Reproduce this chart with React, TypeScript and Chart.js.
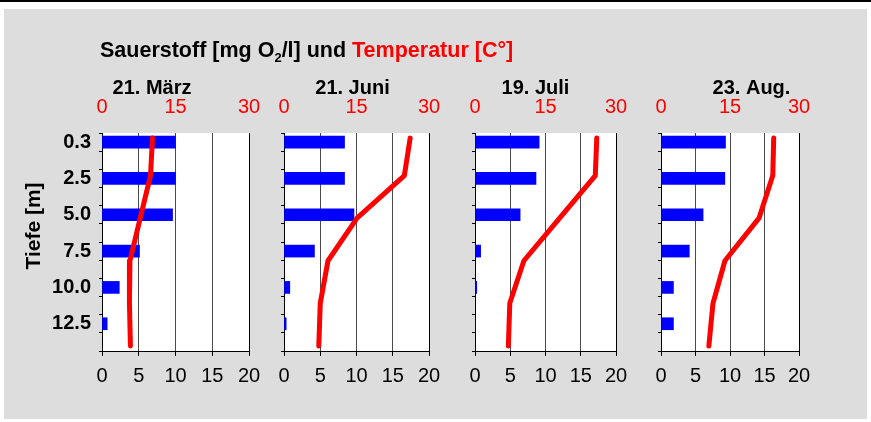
import React, { useEffect, useRef } from 'react';
import { Chart, registerables } from 'chart.js';

Chart.register(...registerables);

// ---------- data ----------
const depthLabels = ['0.3', '2.5', '5.0', '7.5', '10.0', '12.5'];
const depthValues = [0.3, 2.5, 5.0, 7.5, 10.0, 12.5];
const panelTitles = ['21. März', '21. Juni', '19. Juli', '23. Aug.'];

const oxygenMaerz = [10.0, 10.0, 9.6, 5.1, 2.35, 0.7];
const oxygenJuni = [8.35, 8.35, 9.65, 4.2, 0.8, 0.3];
const oxygenJuli = [9.1, 8.65, 6.4, 0.8, 0.25, 0];
const oxygenAug = [9.35, 9.25, 6.1, 4.1, 1.8, 1.8];

const tempMaerz = [10.3, 9.9, 7.8, 5.7, 5.6, 5.8];
const tempJuni = [26.1, 24.9, 15.1, 9.1, 7.5, 7.2];
const tempJuli = [25.9, 25.6, 18.0, 10.4, 7.4, 7.1];
const tempAug = [24.5, 24.3, 21.3, 13.9, 11.3, 10.4];

const oxygenTicks = [0, 5, 10, 15, 20];
const tempTicks = [0, 15, 30];

const oxygenSeries = [oxygenMaerz, oxygenJuni, oxygenJuli, oxygenAug];
const tempSeries = [tempMaerz, tempJuni, tempJuli, tempAug];

// ---------- layout (page coordinates) ----------
const W = 871;
const H = 422;
const PLOT_TOP = 133;
const PLOT_BOTTOM = 351;
const PANELS = [
  { left: 102, right: 249, titleX: 152 },
  { left: 284, right: 429, titleX: 352.5 },
  { left: 475, right: 616, titleX: 535.5 },
  { left: 661, right: 799, titleX: 751.5 },
];
const Y_AXIS_W = 60;
const X_BOTTOM_H = 50;
const X_TOP_H = 50;
const FONT = "'Liberation Sans', Arial, Helvetica, sans-serif";

type Run = { text: string; color?: string; size?: number; dy?: number };
type TextItem = {
  runs: Run[];
  x: number;
  y: number;
  size: number;
  bold?: boolean;
  align?: 'left' | 'center';
  rotate?: boolean;
};

const bgPlugin = {
  id: 'plotBg',
  beforeDraw(chart: any) {
    const { ctx, chartArea } = chart;
    ctx.save();
    ctx.fillStyle = '#FFFFFF';
    ctx.fillRect(chartArea.left, chartArea.top, chartArea.right - chartArea.left, chartArea.bottom - chartArea.top);
    ctx.restore();
  },
};

const textPlugin = {
  id: 'texts',
  afterDraw(chart: any, _args: any, opts: any) {
    const ctx = chart.ctx as CanvasRenderingContext2D;
    const items: TextItem[] = (opts && opts.items) || [];
    for (const item of items) {
      ctx.save();
      const fontOf = (size: number) => `${item.bold ? 'bold ' : ''}${size}px ${FONT}`;
      let total = 0;
      for (const r of item.runs) {
        ctx.font = fontOf(r.size || item.size);
        total += ctx.measureText(r.text).width;
      }
      ctx.textBaseline = 'alphabetic';
      ctx.textAlign = 'left';
      let cx: number;
      let by: number;
      ctx.translate(item.x, item.y);
      if (item.rotate) {
        ctx.rotate(-Math.PI / 2);
        cx = -total / 2;
        by = item.size * 0.36;
      } else {
        cx = item.align === 'center' ? -total / 2 : 0;
        by = 0;
      }
      for (const r of item.runs) {
        ctx.font = fontOf(r.size || item.size);
        ctx.fillStyle = r.color || '#000000';
        ctx.fillText(r.text, cx, by + (r.dy || 0));
        cx += ctx.measureText(r.text).width;
      }
      ctx.restore();
    }
  },
};

function makeConfig(i: number): any {
  const p = PANELS[i];
  const labels = depthLabels.flatMap((l) => [l, '']);
  const barData = oxygenSeries[i].flatMap((v) => [v, null]);
  const lineData = tempSeries[i].map((t, k) => ({ x: t, y: depthValues[k] }));

  const items: TextItem[] = [
    {
      runs: [{ text: panelTitles[i] }],
      x: p.titleX,
      y: 93.5,
      size: 20,
      bold: true,
      align: 'center',
    },
  ];
  if (i === 0) {
    items.push({
      runs: [
        { text: 'Sauerstoff [mg O' },
        { text: '2', size: 13, dy: 5 },
        { text: '/l] und ' },
        { text: 'Temperatur [C°]', color: '#FF0000' },
      ],
      x: 100,
      y: 57,
      size: 21.5,
      bold: true,
      align: 'left',
    });
    items.push({
      runs: [{ text: 'Tiefe [m]' }],
      x: 32,
      y: 226,
      size: 21,
      bold: true,
      rotate: true,
    });
  }

  return {
    type: 'bar',
    data: {
      labels,
      datasets: [
        {
          type: 'line',
          label: 'Temperatur',
          data: lineData,
          xAxisID: 'x2',
          yAxisID: 'y2',
          borderColor: '#FF0000',
          backgroundColor: '#FF0000',
          borderWidth: 5,
          pointRadius: 0,
          borderCapStyle: 'round',
          borderJoinStyle: 'round',
          tension: 0,
          order: 0,
          clip: false,
        },
        {
          type: 'bar',
          label: 'Sauerstoff',
          data: barData,
          xAxisID: 'x',
          yAxisID: 'y',
          backgroundColor: '#0000FF',
          borderWidth: 0,
          barThickness: 12,
          grouped: false,
          order: 1,
        },
      ],
    },
    options: {
      responsive: false,
      animation: false,
      indexAxis: 'y',
      layout: {
        padding: {
          left: p.left - Y_AXIS_W,
          right: W - p.right,
          top: PLOT_TOP - X_TOP_H,
          bottom: H - PLOT_BOTTOM - X_BOTTOM_H,
        },
      },
      plugins: {
        legend: { display: false },
        tooltip: { enabled: false },
        title: { display: false },
        texts: { items },
      },
      scales: {
        x: {
          type: 'linear',
          position: 'bottom',
          min: 0,
          max: 20,
          offset: false,
          afterBuildTicks: (s: any) => {
            s.ticks = oxygenTicks.map((v) => ({ value: v }));
          },
          afterFit: (s: any) => {
            s.height = X_BOTTOM_H;
          },
          ticks: { color: '#000000', font: { family: FONT, size: 20 }, padding: 8 },
          grid: {
            offset: false,
            color: (c: any) => (c.tick && (c.tick.value === 20 || c.tick.value === 0) ? '#000000' : '#4a4a4a'),
            tickColor: '#000000',
            tickLength: 5,
            lineWidth: 1,
          },
          border: { color: '#000000', width: 1 },
        },
        x2: {
          type: 'linear',
          position: 'top',
          min: 0,
          max: 30,
          offset: false,
          afterBuildTicks: (s: any) => {
            s.ticks = tempTicks.map((v) => ({ value: v }));
          },
          afterFit: (s: any) => {
            s.height = X_TOP_H;
          },
          ticks: { color: '#FF0000', font: { family: FONT, size: 20 }, padding: 14 },
          grid: { display: false, drawTicks: false, offset: false },
          border: { display: false },
        },
        y: {
          type: 'category',
          position: 'left',
          offset: true,
          afterFit: (s: any) => {
            s.width = Y_AXIS_W;
          },
          ticks: {
            display: i === 0,
            autoSkip: false,
            color: '#000000',
            font: { family: FONT, size: 20, weight: 'bold' },
            padding: 8,
          },
          grid: { offset: true, drawOnChartArea: false, tickLength: 3, color: '#000000' },
          border: { color: '#000000', width: 1 },
        },
        y2: {
          type: 'linear',
          display: false,
          reverse: true,
          offset: false,
          grid: { offset: false },
          min: 0,
          max: 12.8,
        },
      },
    },
    plugins: [bgPlugin, textPlugin],
  };
}

function Panel({ index }: { index: number }) {
  const ref = useRef<HTMLCanvasElement | null>(null);
  useEffect(() => {
    if (!ref.current) return;
    const chart = new Chart(ref.current, makeConfig(index));
    return () => chart.destroy();
  }, [index]);
  return (
    <canvas
      ref={ref}
      width={W}
      height={H}
      style={{ position: 'absolute', left: 0, top: 0, width: W, height: H }}
    />
  );
}

export default function App() {
  return (
    <div
      style={{
        position: 'fixed',
        left: 0,
        top: 0,
        width: W,
        height: H,
        background: '#FFFFFF',
        overflow: 'hidden',
      }}
    >
      <div style={{ position: 'absolute', left: 0, top: 0, width: W, height: 2, background: '#000000' }} />
      <div style={{ position: 'absolute', left: 4, top: 9, width: 863, height: 410, background: '#DDDDDD' }} />
      {PANELS.map((_, i) => (
        <Panel key={i} index={i} />
      ))}
    </div>
  );
}
